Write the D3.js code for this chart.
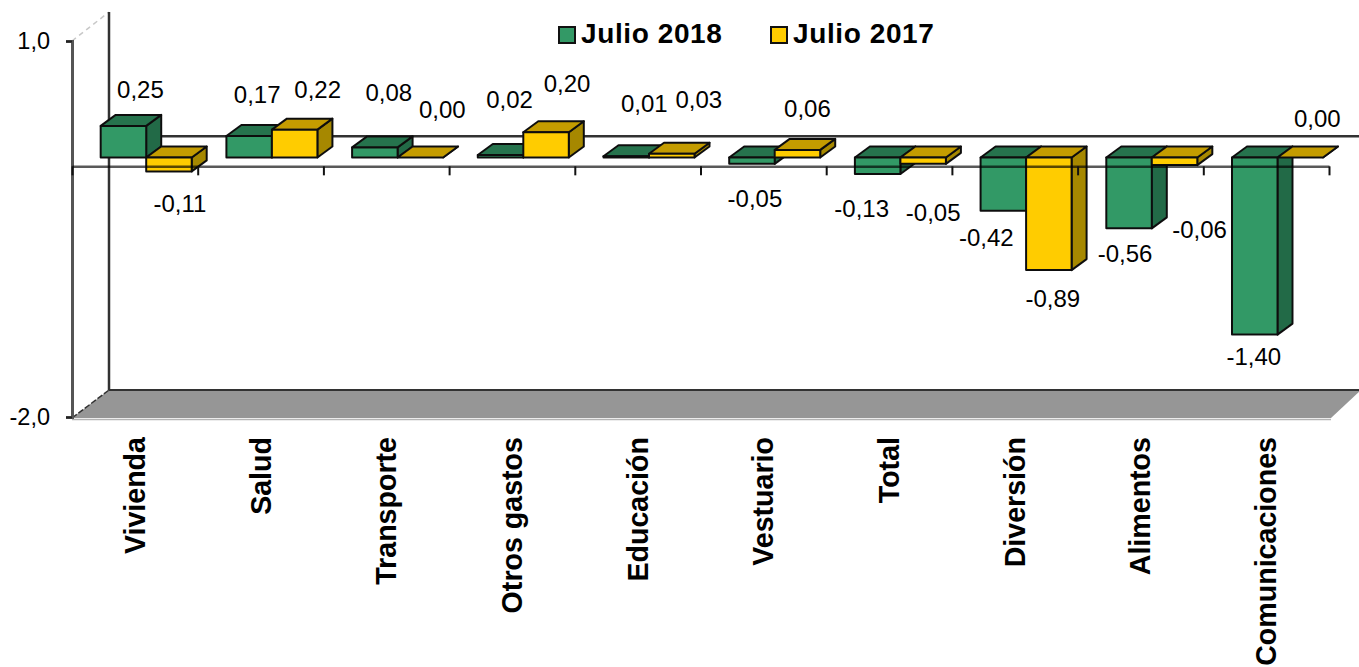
<!DOCTYPE html>
<html lang="es">
<head>
<meta charset="utf-8">
<script src="https://cdn.jsdelivr.net/npm/d3@7"></script>
<style>
  html, body { margin: 0; background: #fff; overflow: hidden; }
  text { font-family: "Liberation Sans", Arial, sans-serif; fill: #000; }
  .value { font-size: 24px; text-anchor: middle; }
  .cat { font-size: 28.6px; font-weight: bold; text-anchor: end; }
  .legend-text { font-size: 28px; font-weight: bold; letter-spacing: 0.6px; }
</style>
</head>
<body>
<div id="chart"></div>
<script>
const categories = ['Vivienda', 'Salud', 'Transporte', 'Otros gastos', 'Educación', 'Vestuario', 'Total', 'Diversión', 'Alimentos', 'Comunicaciones'];
const seriesNames = ['Julio 2018', 'Julio 2017'];
const julio2018 = [0.25, 0.17, 0.08, 0.02, 0.01, -0.05, -0.13, -0.42, -0.56, -1.40];
const julio2017 = [-0.11, 0.22, 0.00, 0.20, 0.03, 0.06, -0.05, -0.89, -0.06, 0.00];
const yTicks = [-2, 1];

// hand placed label offsets, from the end of each bar (the original has no real rule here)
const shift2018 = [[17, -36], [8, -41], [14, -54], [9, -54], [18, -52], [3, 36], [-16, 36], [-17, 28], [-4, 27], [-1, 25]];
const shift2017 = [[11, 33], [23, -39], [22, -47], [21, -48], [27, -53], [10, -40], [10, 50], [4, 30], [25, 66], [17, -38]];

const W = 1359, H = 667;
const left = 72, right = 1329, top1 = 41, bottom = 417;
const wallDx = 37, wallDy = 27;
const barDx = 15, barDy = 11; // depth of one bar
const planeDy = 10;           // labels are measured from this plane

const colors = {
  'Julio 2018': { front: '#339966', top: '#26734d', side: '#236a47' },
  'Julio 2017': { front: '#ffcc00', top: '#c49c00', side: '#a68800' },
};

const fmt = (d, n) => d.toFixed(n).replace('.', ',');

const y = d3.scaleLinear().domain([-2, 1]).range([bottom, top1]);
// bars sit on a plane behind the front axis, so they get their own scale
const yBar = d3.scaleLinear().domain([-2, 1]).range([410.5, 31]);
const xBand = d3.scaleBand().domain(categories).range([left, right]);
const xInner = d3.scaleBand().domain(seriesNames).range([0, 91]);
const xTicks = d3.scaleLinear().domain([0, categories.length]).range([left, right]);
const barOffset = 28.7;

const svg = d3.select('#chart').append('svg').attr('width', W).attr('height', H).style('display', 'block');

const defs = svg.append('defs');
defs.append('filter').attr('id', 'soft').append('feGaussianBlur').attr('stdDeviation', 0.45);

const g = svg.append('g').attr('filter', 'url(#soft)');

// walls and floor
g.append('path')
  .attr('d', `M${left},${top1}L${left + wallDx},${top1 - 29}`)
  .attr('stroke', '#c8c8c8').attr('stroke-width', 1.5).attr('stroke-dasharray', '5,4');

g.append('path')
  .attr('d', `M${left},${bottom + 1}L${left + wallDx},${bottom - wallDy}L${W + 2},${bottom - wallDy}L${right + 2},${bottom + 1}Z`)
  .attr('fill', '#969696');
g.append('line').attr('x1', left).attr('x2', right + 2).attr('y1', bottom + 2.5).attr('y2', bottom + 2.5)
  .attr('stroke', '#b4b4b4').attr('stroke-width', 1.5);
g.append('line').attr('x1', left + wallDx).attr('x2', W).attr('y1', bottom - wallDy).attr('y2', bottom - wallDy)
  .attr('stroke', '#333').attr('stroke-width', 2);
g.append('line').attr('x1', left).attr('x2', left + wallDx).attr('y1', bottom + 1).attr('y2', bottom - wallDy)
  .attr('stroke', '#333').attr('stroke-width', 1.5).attr('stroke-dasharray', '6,2');

// back wall axis and zero line
g.append('line').attr('x1', left + wallDx).attr('x2', left + wallDx).attr('y1', 12).attr('y2', bottom - wallDy)
  .attr('stroke', '#333').attr('stroke-width', 2.5);
g.append('line').attr('x1', left + wallDx).attr('x2', W).attr('y1', y(0) - 30).attr('y2', y(0) - 30)
  .attr('stroke', '#333').attr('stroke-width', 2.5);

// bars
const rows = categories.map((c, i) => ({
  cat: c,
  values: [
    { name: seriesNames[0], value: julio2018[i], shift: shift2018[i] },
    { name: seriesNames[1], value: julio2017[i], shift: shift2017[i] },
  ],
}));

const groups = g.selectAll('.group').data(rows).enter().append('g').attr('class', 'group');

const bars = groups.selectAll('.bar').data(d => d.values.map(v => ({ ...v, cat: d.cat }))).enter().append('g').attr('class', 'bar');

const barX = d => xBand(d.cat) + barOffset + xInner(d.name);
const yTop = d => Math.min(yBar(d.value), yBar(0));
const yBot = d => Math.max(yBar(d.value), yBar(0));

bars.each(function (d) {
  const b = d3.select(this);
  const x0 = barX(d), x1 = x0 + xInner.bandwidth();
  const t = yTop(d), u = yBot(d);
  const c = colors[d.name];
  b.append('path')
    .attr('d', `M${x1},${t}L${x1 + barDx},${t - barDy}L${x1 + barDx},${u - barDy}L${x1},${u}Z`)
    .attr('fill', c.side);
  b.append('path')
    .attr('d', `M${x0},${t}L${x0 + barDx},${t - barDy}L${x1 + barDx},${t - barDy}L${x1},${t}Z`)
    .attr('fill', c.top);
  b.append('rect')
    .attr('x', x0).attr('y', t).attr('width', x1 - x0).attr('height', u - t)
    .attr('fill', c.front);
  b.selectAll('path,rect').attr('stroke', '#111').attr('stroke-width', 2).attr('stroke-linejoin', 'round');
});

// front axes go over the bars, they show through in the original
const yAxis = d3.axisLeft(y).tickValues(yTicks).tickSize(6).tickPadding(16).tickFormat(d => fmt(d, 1));
const yG = svg.append('g').attr('transform', `translate(${left},0)`).call(yAxis);
yG.selectAll('text').attr('font-size', 23.5).style('font-family', '"Liberation Sans", Arial, sans-serif');
yG.selectAll('line').attr('stroke', '#222').attr('stroke-width', 2);
yG.select('.domain').attr('stroke', '#555').attr('stroke-width', 3);

const xAxis = d3.axisBottom(xTicks).tickValues(d3.range(categories.length + 1)).tickSize(9).tickSizeOuter(0).tickFormat('');
const xG = svg.append('g').attr('transform', `translate(0,${y(0)})`).call(xAxis);
xG.select('.domain').attr('stroke', 'rgba(0,0,0,0.65)').attr('stroke-width', 2.5);
xG.selectAll('line').attr('stroke', '#111').attr('stroke-width', 2);

// value labels
rows.forEach(r => r.values.forEach(v => {
  const d = { ...v, cat: r.cat };
  const cx = barX(d) + xInner.bandwidth() / 2 + v.shift[0];
  const cy = y(v.value) - planeDy + v.shift[1];
  svg.append('text').attr('class', 'value')
    .attr('x', cx).attr('y', cy).attr('dy', '0.36em')
    .text(fmt(v.value, 2));
}));

// category labels
svg.selectAll('.cat').data(categories).enter().append('text')
  .attr('class', 'cat')
  .attr('transform', d => `translate(${xBand(d) + xBand.bandwidth() / 2 + 10},437) rotate(-90)`)
  .text(d => d);

// legend
const legendX = [559, 771];
const leg = svg.selectAll('.legend').data(seriesNames).enter().append('g')
  .attr('class', 'legend')
  .attr('transform', (d, i) => `translate(${legendX[i]},27)`);
leg.append('rect').attr('width', 16).attr('height', 16)
  .attr('fill', d => colors[d].front).attr('stroke', '#111').attr('stroke-width', 2);
leg.append('text').attr('class', 'legend-text').attr('x', 22).attr('y', 16).text(d => d);
</script>
</body>
</html>
